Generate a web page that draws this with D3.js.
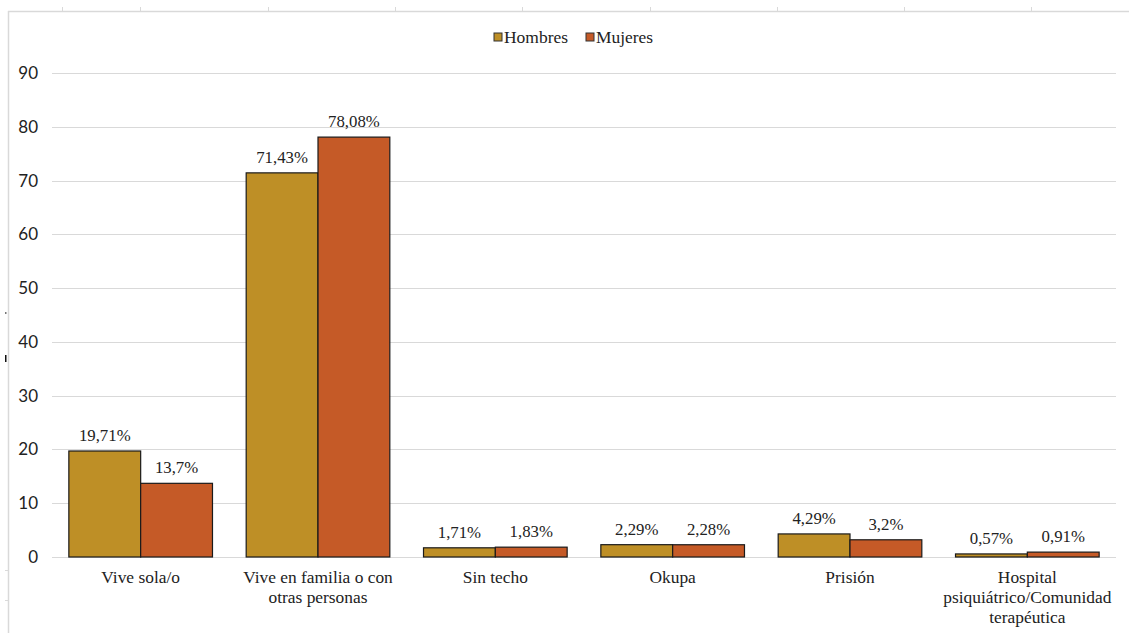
<!DOCTYPE html>
<html>
<head>
<meta charset="utf-8">
<script src="https://cdn.jsdelivr.net/npm/d3@7"></script>
<style>
  html, body { margin: 0; padding: 0; background: #fff; }
  svg { display: block; }
  .serif { font-family: "Liberation Serif", "Times New Roman", Times, serif; }
  .sans { font-family: Lato, "Open Sans", sans-serif; }
</style>
</head>
<body>
<svg id="chart" width="1129" height="633"></svg>
<script>
// Living situation by sex (%)
const categories = [
  ["Vive sola/o"],
  ["Vive en familia o con", "otras personas"],
  ["Sin techo"],
  ["Okupa"],
  ["Prisión"],
  ["Hospital", "psiquiátrico/Comunidad", "terapéutica"]
];
const seriesNames = ["Hombres", "Mujeres"];
const hombres = [19.71, 71.43, 1.71, 2.29, 4.29, 0.57];
const mujeres = [13.7, 78.08, 1.83, 2.28, 3.2, 0.91];
const hombresLabels = ["19,71%", "71,43%", "1,71%", "2,29%", "4,29%", "0,57%"];
const mujeresLabels = ["13,7%", "78,08%", "1,83%", "2,28%", "3,2%", "0,91%"];
const yTicks = [0, 10, 20, 30, 40, 50, 60, 70, 80, 90];
const colors = ["#BE8F26", "#C55A27"];

const svg = d3.select("#chart");
const W = 1129, H = 633;

// sheet frame
const frame = svg.append("g");
frame.append("line").attr("x1", 8).attr("x2", W).attr("y1", 11.5).attr("y2", 11.5)
  .attr("stroke", "#d9d9d9").attr("stroke-width", 1.5);
frame.append("line").attr("x1", 8.5).attr("x2", 8.5).attr("y1", 11).attr("y2", H)
  .attr("stroke", "#d9d9d9").attr("stroke-width", 1.5);
[62, 140, 268, 395, 522, 650, 777, 904, 1031].forEach(x => {
  frame.append("line").attr("x1", x + 0.5).attr("x2", x + 0.5).attr("y1", 7).attr("y2", 11)
    .attr("stroke", "#d9d9d9");
});
[570, 600].forEach(y => {
  frame.append("line").attr("x1", 5).attr("x2", 8).attr("y1", y + 0.5).attr("y2", y + 0.5)
    .attr("stroke", "#d9d9d9");
});
frame.append("rect").attr("x", 5).attr("y", 312).attr("width", 1.5).attr("height", 2).attr("fill", "#777");
frame.append("rect").attr("x", 5).attr("y", 355).attr("width", 1.5).attr("height", 7).attr("fill", "#111");

const x0 = 52, x1 = 1116;
const yTop = 73, yBottom = 557;

const x = d3.scaleBand().domain(d3.range(categories.length)).range([x0, x1])
  .paddingInner(0.19).paddingOuter(0.095);
const xs = d3.scaleBand().domain(seriesNames).range([0, x.bandwidth()]);
const y = d3.scaleLinear().domain([0, 90]).range([yBottom, yTop]);

// gridlines
svg.append("g").selectAll("line").data(yTicks).join("line")
  .attr("x1", x0).attr("x2", x1)
  .attr("y1", d => Math.round(y(d)) + 0.5).attr("y2", d => Math.round(y(d)) + 0.5)
  .attr("stroke", "#d9d9d9").attr("stroke-width", 1);

// y axis labels
const yAxis = svg.append("g").attr("transform", `translate(${x0},0)`)
  .call(d3.axisLeft(y).tickValues(yTicks).tickSize(0).tickPadding(14).tickFormat(d3.format("d")));
yAxis.select(".domain").remove();
yAxis.attr("font-family", null).attr("font-size", null);
yAxis.selectAll("text").attr("class", "sans").style("font-size", "17px").attr("fill", "#222");

// bars
const seriesData = [hombres, mujeres];
const seriesLabels = [hombresLabels, mujeresLabels];
seriesNames.forEach((name, si) => {
  const g = svg.append("g");
  g.selectAll("rect").data(seriesData[si]).join("rect")
    .attr("x", (d, i) => x(i) + xs(name))
    .attr("y", d => y(d))
    .attr("width", xs.bandwidth())
    .attr("height", d => y(0) - y(d))
    .attr("fill", colors[si])
    .attr("stroke", "#1a1a1a").attr("stroke-width", 1.2);
  g.selectAll("text").data(seriesData[si]).join("text")
    .attr("class", "serif")
    .attr("x", (d, i) => x(i) + xs(name) + xs.bandwidth() / 2)
    .attr("y", d => y(d) - 10)
    .attr("text-anchor", "middle")
    .style("font-size", "16.8px").attr("fill", "#222")
    .text((d, i) => seriesLabels[si][i]);
});

// category labels
const cat = svg.append("g");
categories.forEach((lines, i) => {
  const t = cat.append("text")
    .attr("class", "serif")
    .attr("x", x(i) + x.bandwidth() / 2)
    .attr("y", 583)
    .attr("text-anchor", "middle")
    .style("font-size", "17.4px").attr("fill", "#222");
  lines.forEach((ln, k) => {
    t.append("tspan").attr("x", x(i) + x.bandwidth() / 2).attr("dy", k === 0 ? 0 : 19.8).text(ln);
  });
});

// legend
const legend = svg.append("g");
const legendItems = [{ name: "Hombres", x: 494 }, { name: "Mujeres", x: 586 }];
legendItems.forEach((it, i) => {
  legend.append("rect").attr("x", it.x).attr("y", 33).attr("width", 8).attr("height", 8)
    .attr("fill", colors[i]).attr("stroke", "#333").attr("stroke-width", 1);
  legend.append("text").attr("class", "serif").attr("x", it.x + 10).attr("y", 43)
    .style("font-size", "16.5px").attr("fill", "#222")
    .attr("textLength", i === 0 ? 64 : 57).attr("lengthAdjust", "spacingAndGlyphs")
    .text(it.name);
});
</script>
</body>
</html>
